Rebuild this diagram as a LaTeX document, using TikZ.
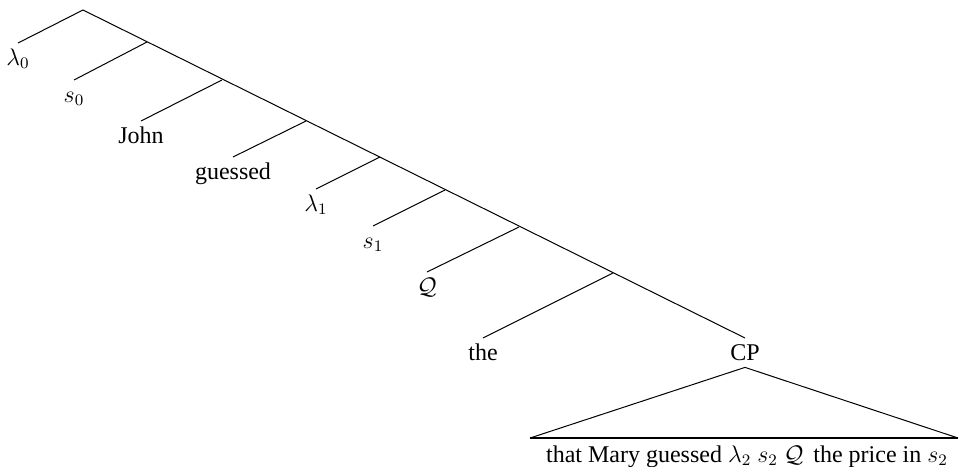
\documentclass[tikz,border=0pt,12pt]{standalone}
\usepackage{amsmath, amssymb}
\usepackage{fontspec}
\setmainfont{Liberation Serif}
\usepackage{tikz}
\usetikzlibrary{calc, positioning}

\begin{document}
\begin{tikzpicture}[x=0.5pt, y=-0.5pt, line width=0.5pt,
    leaf/.style={anchor=north, inner sep=2pt, text height=1.6ex, text depth=.25ex}]
  \useasboundingbox (0,0) rectangle (961,466);
  % spine
  \coordinate (n0) at (83,10);
  \coordinate (n1) at (147,42);
  \coordinate (n2) at (222,80);
  \coordinate (n3) at (306,121);
  \coordinate (n4) at (380,157);
  \coordinate (n5) at (445,190);
  \coordinate (n6) at (519,227);
  \coordinate (n7) at (613,273);

  % leaves
  \node[leaf] (lam0) at (18,43) {$\lambda_0$};
  \node[leaf] (s0) at (74,80) {$s_0$};
  \node[leaf] (john) at (141,121) {John};
  \node[leaf] (guessed) at (233,157) {guessed};
  \node[leaf] (lam1) at (316,189) {$\lambda_1$};
  \node[leaf] (s1) at (373,226) {$s_1$};
  \node[leaf] (qq) at (427,272) {$\mathcal{Q}$};
  \node[leaf] (the) at (483,338) {the};
  \node[leaf] (cp) at (745,338) {CP};

  \draw (lam0.north) -- (n0) -- (cp.north);
  \draw (n1) -- (s0.north);
  \draw (n2) -- (john.north);
  \draw (n3) -- (guessed.north);
  \draw (n4) -- (lam1.north);
  \draw (n5) -- (s1.north);
  \draw (n6) -- (qq.north);
  \draw (n7) -- (the.north);

  % triangle over the clause
  \coordinate (tl) at (530,438);
  \coordinate (tr) at (958,438);
  \draw (tl) -- (cp.south) -- (tr);
  \draw[line width=1.4pt] (tl) -- (tr);
  \node[leaf] (clause) at (747,440)
    {that Mary guessed $\lambda_2$ $s_2$ $\mathcal{Q}$\, the price in $s_2$};
\end{tikzpicture}
\end{document}
